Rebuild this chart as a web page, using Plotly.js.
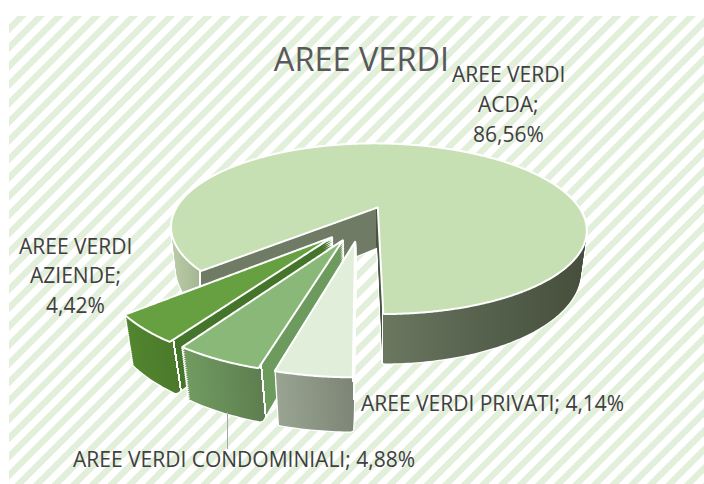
<!DOCTYPE html>
<html>
<head>
<meta charset="utf-8">
<script src="https://cdn.plot.ly/plotly-3.0.1.min.js"></script>
<style>
html,body{margin:0;padding:0;background:#fff;overflow:hidden;width:704px;height:484px}
#stripes{position:absolute;left:9px;top:16px;width:695px;height:468px;
background:repeating-linear-gradient(135deg,#fff 0,#fff 5.6px,#e2efda 6.4px,#e2efda 12px,#fff 12.8px,#fff 13.15px)}
#chart{position:absolute;left:0;top:0;width:704px;height:484px}
</style>
</head>
<body>
<div id="stripes"></div>
<div id="chart"></div>
<script>
const chartTitle = 'AREE VERDI';
const categories = ['AREE VERDI ACDA','AREE VERDI PRIVATI','AREE VERDI CONDOMINIALI','AREE VERDI AZIENDE'];
const values = [86.56,4.14,4.88,4.42];
const topColors = ['#c6dfb3','#e1eeda','#8ab878','#67a040'];
const drawOrder = [0,3,2,1];
const labelLines = [
  ['AREE VERDI',508,74],['ACDA;',508,104],['86,56%',508,134],
  ['AREE VERDI PRIVATI; 4,14%',492.5,403],
  ['AREE VERDI CONDOMINIALI; 4,88%',243.5,459],
  ['AREE VERDI',75,246],['AZIENDE;',75,275],['4,42%',75,305]
];

// view of the flat pie: tilt and perspective
const R=211, pullWorld=43, x0=361, y0=223, cosT=0.417, sinT=0.909, camD=733, depth=47, step=2;
const pull=pullWorld/R;
const CLEAR='rgba(0,0,0,0)';

const traces=[], meta=[];
function layer(sl,h,kind){
  const cols=values.map((v,i)=>i===sl?(kind==='halo'?'#ffffff':topColors[i]):CLEAR);
  const lw=values.map((v,i)=>i===sl?((kind==='top'||kind==='halo')?2:0):0);
  traces.push({type:'pie',labels:categories,values:values,sort:false,direction:'clockwise',rotation:228.4,
    pull:values.map(()=>pull),textinfo:'none',hoverinfo:'skip',showlegend:false,
    domain:{x:[0,1],y:[0,1]},
    marker:{colors:cols,line:{color:'#ffffff',width:lw}}});
  meta.push({sl,h,kind});
}
drawOrder.forEach(sl=>{
  for(let h=depth;h>0;h-=step) layer(sl,h,'halo');
  for(let h=depth;h>0;h-=step) layer(sl,h,'wall');
  layer(sl,0,'top');
});

const annotations=labelLines.map(l=>({text:l[0],x:l[1]/704,y:1-l[2]/484,xref:'paper',yref:'paper',
  xanchor:'center',yanchor:'middle',showarrow:false,font:{family:'Open Sans',size:21,color:'#404040'}}));

const layout={width:704,height:484,margin:{l:0,r:0,t:0,b:0},
  paper_bgcolor:CLEAR,plot_bgcolor:CLEAR,showlegend:false,
  title:{text:chartTitle,x:361.5/704,xanchor:'center',y:1-60/484,yanchor:'middle',
    font:{family:'Open Sans',size:32.5,color:'#595959'}},
  annotations:annotations,
  shapes:[{type:'line',xref:'paper',yref:'paper',x0:227.5/704,x1:227.5/704,y0:1-412/484,y1:1-449/484,
    line:{color:'#a6a6a6',width:1}}]};

// wall shading: stops measured along the normal of a wall's corner edge
const wallShades=[
  {corner:[200,270],edge:[0,1],stops:[[-30,'#bccfa9'],[-0.5,'#a4b592'],[-0.5,'#fff'],[1,'#fff'],[1,'#707b66'],[176,'#707b66'],[176,'#4a5542'],[182,'#4a5542'],[182,'#fff'],[183.5,'#fff'],[183.5,'#6c7760'],[270,'#586450'],[385,'#454f3c']]},
  {corner:[352,373],edge:[3,55],stops:[[-75,'#99a391'],[0,'#7d8676'],[0,'#fff'],[60,'#fff']]},
  {corner:[260,363],edge:[5,57],stops:[[-75,'#719b61'],[0,'#5e7e4f'],[0,'#fff'],[2,'#fff'],[2,'#6d9a5d'],[90,'#6d9a5d']]},
  {corner:[172,338],edge:[8,53],stops:[[-45,'#53862f'],[0,'#4a7a2b'],[0,'#fff'],[2,'#fff'],[2,'#44752a'],[170,'#44752a']]}
];
function addGradients(svg){
  const NS='http://www.w3.org/2000/svg';
  const defs=svg.querySelector('defs')||svg.insertBefore(document.createElementNS(NS,'defs'),svg.firstChild);
  wallShades.forEach((w,i)=>{
    const L=Math.hypot(w.edge[0],w.edge[1]);
    const nx=w.edge[1]/L, ny=-w.edge[0]/L, span=500;
    const g=document.createElementNS(NS,'linearGradient');
    g.setAttribute('id','wall'+i);
    g.setAttribute('gradientUnits','userSpaceOnUse');
    g.setAttribute('x1',w.corner[0]-nx*span);g.setAttribute('y1',w.corner[1]-ny*span);
    g.setAttribute('x2',w.corner[0]+nx*span);g.setAttribute('y2',w.corner[1]+ny*span);
    w.stops.forEach(s=>{
      const st=document.createElementNS(NS,'stop');
      st.setAttribute('offset',(s[0]+span)/(2*span));
      st.setAttribute('stop-color',s[1]);
      g.appendChild(st);
    });
    defs.appendChild(g);
  });
}

const gd=document.getElementById('chart');
Plotly.newPlot(gd,traces,layout,{staticPlot:true,displayModeBar:false}).then(()=>{
  const groups=gd.querySelectorAll('.pielayer .trace');
  addGradients(gd.querySelector('svg.main-svg'));
  groups.forEach((grp,i)=>{
    const m=meta[i];
    const cd0=gd.calcdata[i][0];
    const k=R/cd0.r;
    const paths=grp.querySelectorAll('.slice path.surface');
    paths.forEach((p,j)=>{
      if(j!==m.sl){p.setAttribute('d','');return;}
      const ctm=p.getCTM();
      const len=p.getTotalLength();
      const inc=m.kind==='top'?1.2:2.5;
      const pts=[];
      for(let t=0;t<len;t+=inc){
        const a=p.getPointAtLength(t);
        const sx=ctm.a*a.x+ctm.c*a.y+ctm.e, sy=ctm.b*a.x+ctm.d*a.y+ctm.f;
        const X=(sx-cd0.cx)*k, Y=(sy-cd0.cy)*k;
        const s=1/(1-Y*sinT/camD+m.h*cosT/camD);
        pts.push((x0+X*s).toFixed(2)+','+(y0+(Y*cosT+m.h*sinT)*s).toFixed(2));
      }
      p.removeAttribute('transform');
      p.setAttribute('d','M'+pts.join('L')+'Z');
      if(m.kind==='wall') p.style.fill='url(#wall'+j+')';
      p.style.strokeLinejoin='round';
      if(m.kind==='halo'){p.style.fill='#fff';p.style.stroke='#fff';p.style.strokeWidth='2.5px';}
    });
  });
});
</script>
</body>
</html>
